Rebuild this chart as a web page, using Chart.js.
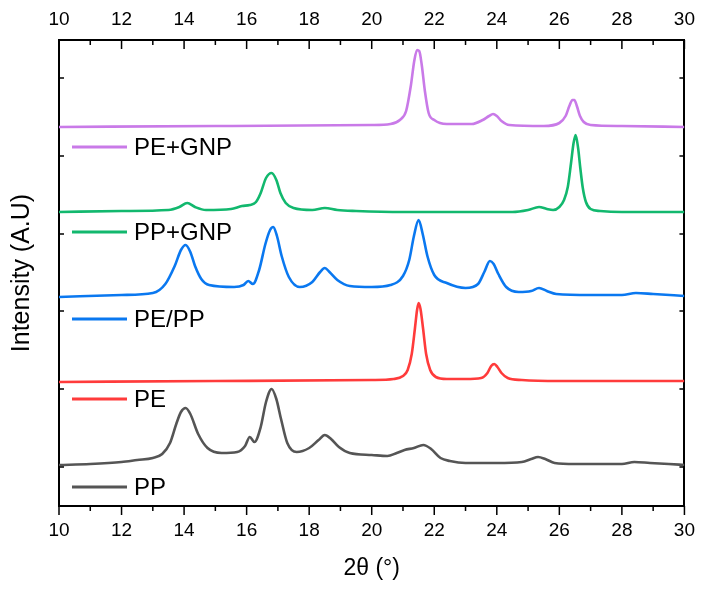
<!DOCTYPE html>
<html>
<head>
<meta charset="utf-8">
<script src="https://cdn.jsdelivr.net/npm/chart.js@4"></script>
<style>
  body { margin: 0; background: #fff; }
  canvas { display: block; }
</style>
</head>
<body>
<canvas id="myChart" width="708" height="589"></canvas>
<script>
// 2theta (deg) and intensity (arbitrary units, already stacked) per sample
const ppAngle = [10, 11, 12, 12.5, 13, 13.3, 13.55, 13.75, 13.9, 14.05, 14.2, 14.45, 14.75, 15.2, 15.7, 15.95, 16.1, 16.25, 16.45, 16.62, 16.8, 16.95, 17.1, 17.3, 17.6, 18.0, 18.3, 18.5, 18.7, 18.95, 19.3, 20.0, 20.5, 20.8, 21.05, 21.35, 21.65, 21.9, 22.2, 22.5, 23.0, 24.0, 24.8, 25.1, 25.32, 25.55, 25.85, 26.5, 27.5, 28.0, 28.4, 28.9, 29.5, 30];
const ppIntensity = [41, 42, 44, 46, 48, 52, 63, 82, 94, 98, 92, 72, 58, 53, 54, 60, 69, 64, 79, 104, 117, 107, 87, 63, 54, 58, 66, 71, 67, 59, 53, 51, 50, 53, 56, 58, 61, 57, 48, 45, 43, 43, 44, 47, 49, 47, 43, 42, 42, 42, 44, 43, 42, 41];

const peAngle = [10, 15, 20, 20.7, 21.0, 21.15, 21.28, 21.38, 21.45, 21.5, 21.56, 21.64, 21.74, 21.87, 22.05, 22.4, 23.0, 23.5, 23.7, 23.82, 23.92, 24.02, 24.15, 24.35, 24.8, 26, 28, 30];
const peIntensity = [124, 125, 126, 127, 130, 136, 152, 177, 196, 203, 197, 178, 152, 136, 129, 127, 127, 128, 133, 140, 142, 139, 133, 128, 126, 125, 125, 125];

const blendAngle = [10, 12, 13, 13.4, 13.7, 13.9, 14.05, 14.2, 14.35, 14.55, 14.8, 15.6, 15.9, 16.05, 16.2, 16.4, 16.6, 16.75, 16.85, 16.97, 17.12, 17.35, 17.7, 18.1, 18.35, 18.5, 18.65, 18.9, 19.3, 20.0, 20.6, 21.0, 21.2, 21.35, 21.5, 21.63, 21.78, 22.0, 22.4, 23.0, 23.4, 23.6, 23.78, 23.9, 24.05, 24.3, 24.7, 25.1, 25.35, 25.6, 25.9, 27.0, 28.0, 28.45, 29.0, 30];
const blendIntensity = [209, 211, 213, 222, 240, 256, 261, 254, 240, 227, 221, 219, 221, 225, 222, 236, 262, 276, 279, 270, 250, 229, 219, 224, 234, 238, 234, 226, 220, 219, 221, 230, 246, 270, 286, 272, 250, 231, 223, 218, 222, 234, 245, 242, 232, 219, 214, 215, 218, 215, 212, 211, 211, 213, 212, 210];

const ppGnpAngle = [10, 12, 13.5, 13.85, 14.1, 14.35, 14.7, 15.5, 15.85, 16.1, 16.3, 16.45, 16.62, 16.8, 16.95, 17.08, 17.25, 17.5, 18.1, 18.5, 18.9, 19.5, 21, 23, 24.5, 25.0, 25.35, 25.6, 25.8, 26.0, 26.15, 26.27, 26.37, 26.45, 26.52, 26.6, 26.67, 26.75, 26.85, 27.0, 27.3, 28, 30];
const ppGnpIntensity = [294, 295, 296, 299, 303, 299, 296, 297, 300, 301, 304, 313, 328, 333, 326, 313, 303, 298, 296, 298, 296, 295, 294, 294, 294, 296, 299, 297, 296, 299, 306, 319, 342, 362, 371, 358, 338, 318, 304, 297, 295, 294, 294];

const peGnpAngle = [10, 15, 20, 20.6, 20.9, 21.1, 21.25, 21.36, 21.45, 21.52, 21.6, 21.7, 21.82, 22.0, 22.4, 23.2, 23.55, 23.75, 23.88, 24.0, 24.15, 24.4, 25.5, 26.0, 26.2, 26.32, 26.42, 26.48, 26.56, 26.66, 26.78, 27.0, 28, 30];
const peGnpIntensity = [379, 380, 381, 382, 386, 395, 420, 445, 456, 455, 441, 415, 393, 386, 382, 382, 386, 390, 392, 390, 385, 381, 380, 383, 390, 400, 406, 406, 400, 390, 384, 381, 380, 379];

const seriesNames = ['PP', 'PE', 'PE/PP', 'PP+GNP', 'PE+GNP'];
const seriesColors = ['#555555', '#ff3b3b', '#0a78f0', '#12b86e', '#c97ae8'];
const yTicks = [39, 117, 195, 272, 350, 428];

const FONT = '"Liberation Sans", Arial, sans-serif';

function pairs(xs, ys) {
  return xs.map((x, i) => ({x: x, y: ys[i]}));
}

const allData = [
  pairs(ppAngle, ppIntensity),
  pairs(peAngle, peIntensity),
  pairs(blendAngle, blendIntensity),
  pairs(ppGnpAngle, ppGnpIntensity),
  pairs(peGnpAngle, peGnpIntensity)
];

// inward/outward tick marks and the in-plot labels next to each trace
const decor = {
  id: 'decor',
  afterDraw(chart) {
    const {ctx, chartArea: a, scales} = chart;
    ctx.save();
    ctx.strokeStyle = '#000';
    ctx.lineWidth = 1.5;
    for (let v = 10; v <= 30; v++) {
      const px = scales.x.getPixelForValue(v);
      const len = v % 2 === 0 ? 9 : 5;
      ctx.beginPath();
      ctx.moveTo(px, a.top); ctx.lineTo(px, a.top + len);
      ctx.moveTo(px, a.bottom); ctx.lineTo(px, a.bottom + len);
      ctx.stroke();
    }
    yTicks.forEach(v => {
      const py = scales.y.getPixelForValue(v);
      ctx.beginPath();
      ctx.moveTo(a.left, py); ctx.lineTo(a.left + 5, py);
      ctx.moveTo(a.right, py); ctx.lineTo(a.right - 5, py);
      ctx.stroke();
    });

    const labelY = [487, 399, 319, 232, 147];
    ctx.font = '24px ' + FONT;
    ctx.textBaseline = 'middle';
    ctx.fillStyle = '#000';
    seriesNames.forEach((name, i) => {
      ctx.strokeStyle = seriesColors[i];
      ctx.lineWidth = 2.8;
      ctx.beginPath();
      ctx.moveTo(72, labelY[i]); ctx.lineTo(127, labelY[i]);
      ctx.stroke();
      ctx.fillText(name, 134, labelY[i] + 1);
    });
    ctx.restore();
  }
};

const ctx = document.getElementById('myChart');

new Chart(ctx, {
  type: 'line',
  data: {
    datasets: allData.map((d, i) => ({
      label: seriesNames[i],
      data: d,
      borderColor: seriesColors[i],
      borderWidth: 2.6,
      pointRadius: 0,
      cubicInterpolationMode: 'monotone',
      xAxisID: 'x',
      yAxisID: 'y'
    }))
  },
  options: {
    responsive: false,
    animation: false,
    layout: {padding: 0},
    plugins: {legend: {display: false}, tooltip: {enabled: false}},
    scales: {
      x: {
        type: 'linear', position: 'bottom', min: 10, max: 30,
        ticks: {stepSize: 2, color: '#000', padding: 13, font: {family: FONT, size: 19}},
        grid: {display: true, drawOnChartArea: false, drawTicks: false},
        border: {color: '#000', width: 2},
        title: {display: true, text: '2θ (°)', color: '#000', font: {family: FONT, size: 23}, padding: {top: 0, bottom: 7}},
        afterFit(s) { s.height = 83; }
      },
      x2: {
        type: 'linear', position: 'top', min: 10, max: 30,
        ticks: {stepSize: 2, color: '#000', padding: 9, font: {family: FONT, size: 19}},
        grid: {display: true, drawOnChartArea: false, drawTicks: false},
        border: {color: '#000', width: 2},
        afterFit(s) { s.height = 40; }
      },
      y: {
        type: 'linear', position: 'left', min: 0, max: 466,
        ticks: {display: false},
        grid: {display: true, drawOnChartArea: false, drawTicks: false},
        border: {color: '#000', width: 2},
        title: {display: true, text: 'Intensity (A.U)', color: '#000', font: {family: FONT, size: 25}, padding: {top: 7, bottom: 0}},
        afterFit(s) { s.width = 59; }
      },
      y2: {
        type: 'linear', position: 'right', min: 0, max: 466,
        ticks: {display: false},
        grid: {display: true, drawOnChartArea: false, drawTicks: false},
        border: {color: '#000', width: 2},
        afterFit(s) { s.width = 16; }
      }
    }
  },
  plugins: [decor]
});
</script>
</body>
</html>
